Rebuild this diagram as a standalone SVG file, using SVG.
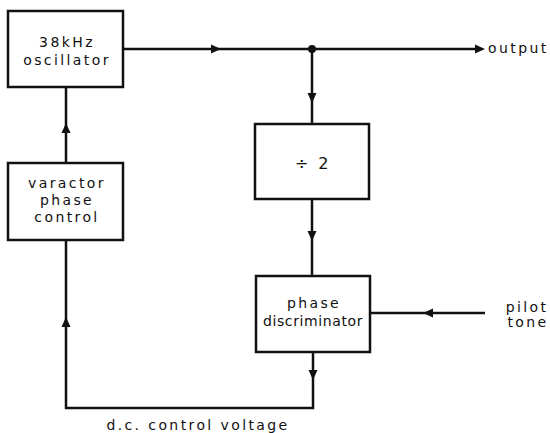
<svg xmlns="http://www.w3.org/2000/svg" xmlns:xlink="http://www.w3.org/1999/xlink" width="550" height="433" viewBox="0 0 550 433">
<style>
.box{fill:#fff;stroke:#111;stroke-width:2.5}
.ln{fill:none;stroke:#111;stroke-width:2.5;stroke-linejoin:miter}
text{font-family:"DejaVu Sans","Liberation Sans",sans-serif;font-size:14px;fill:#111;letter-spacing:2.4px}
.c{text-anchor:middle}
</style>
<defs>
<path id="ah" d="M0,0 L-10,-4.5 L-10,4.5 Z" fill="#111"/>
</defs>
<rect width="550" height="433" fill="#fff"/>
<g id="connectors">
<path class="ln" d="M123,49 H480"/>
<use xlink:href="#ah" transform="translate(221,49)"/>
<use xlink:href="#ah" transform="translate(485,49)"/>
<circle cx="312" cy="49" r="4" fill="#111"/>
<path class="ln" d="M312,49 V124"/>
<use xlink:href="#ah" transform="translate(312,103) rotate(90)"/>
<path class="ln" d="M312,199 V276"/>
<use xlink:href="#ah" transform="translate(312,241) rotate(90)"/>
<path class="ln" d="M485,313 H370"/>
<use xlink:href="#ah" transform="translate(423,313) rotate(180)"/>
<path class="ln" d="M313,352 V408 H66 V240"/>
<use xlink:href="#ah" transform="translate(313,380) rotate(90)"/>
<use xlink:href="#ah" transform="translate(66,317) rotate(-90)"/>
<path class="ln" d="M66,163 V87"/>
<use xlink:href="#ah" transform="translate(66,123) rotate(-90)"/>
</g>
<g id="oscillator">
<rect class="box" x="8" y="11" width="115" height="76"/>
<text class="c" x="67" y="47">38kHz</text>
<text class="c" x="67" y="65">oscillator</text>
</g>
<g id="varactor">
<rect class="box" x="8" y="163" width="115" height="77"/>
<text class="c" x="67" y="188">varactor</text>
<text class="c" x="67" y="205">phase</text>
<text class="c" x="67" y="222">control</text>
</g>
<g id="divider">
<rect class="box" x="255" y="124" width="114" height="75"/>
<text class="c" x="313" y="169" style="font-size:16px">÷ 2</text>
</g>
<g id="discriminator">
<rect class="box" x="256" y="276" width="114" height="76"/>
<text class="c" x="314" y="308">phase</text>
<text class="c" x="313" y="326" style="letter-spacing:0.6px">discriminator</text>
</g>
<g id="labels">
<text x="488" y="53">output</text>
<text class="c" x="527" y="312">pilot</text>
<text class="c" x="528" y="327">tone</text>
<text class="c" x="198" y="430">d.c. control voltage</text>
</g>
</svg>
